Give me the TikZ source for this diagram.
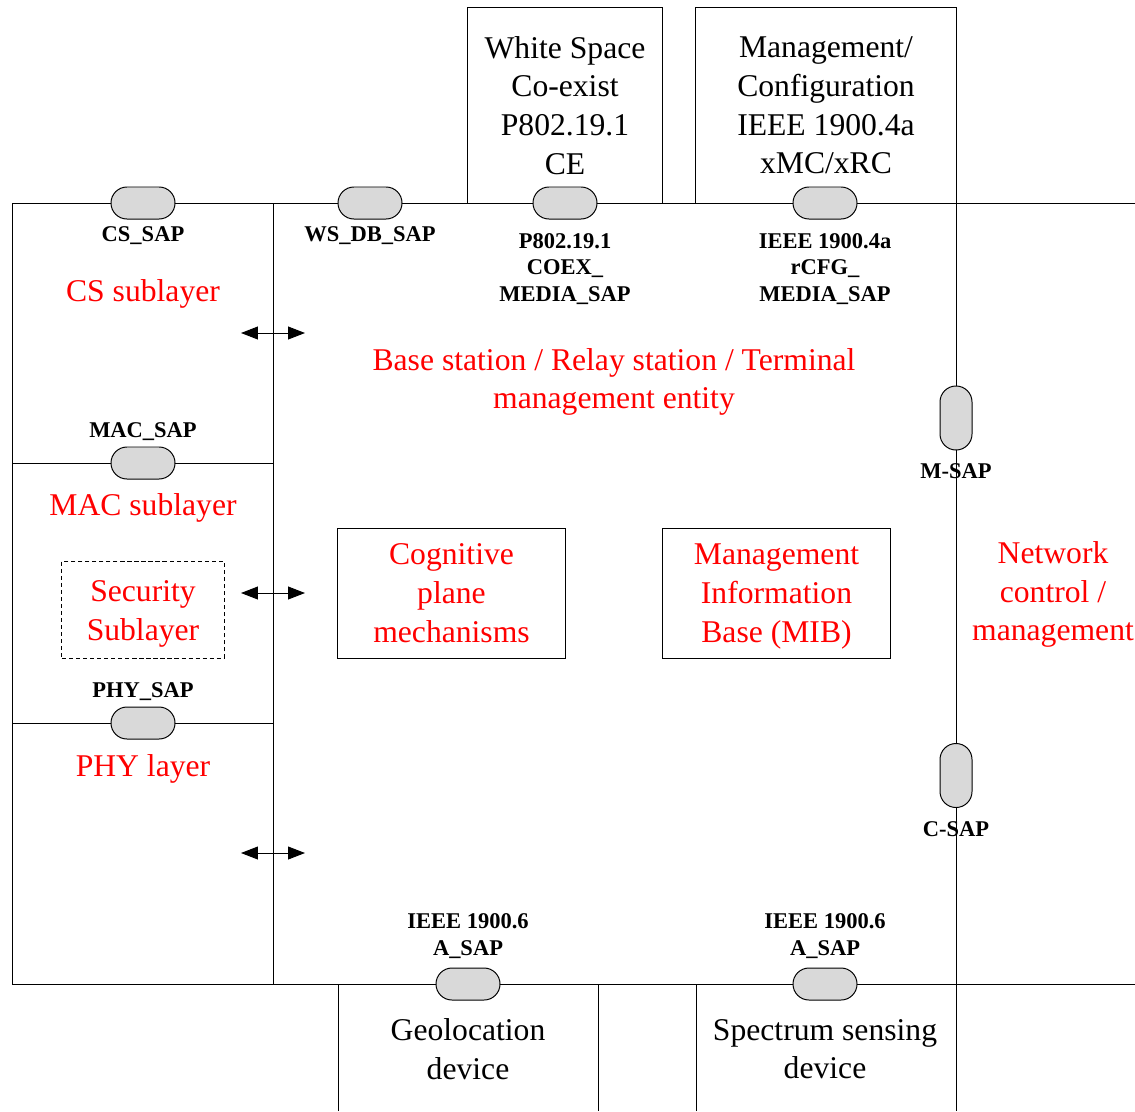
\documentclass[tikz,border=0pt]{standalone}
\usepackage{fontspec}
\setmainfont{Liberation Serif}
\usepackage{xcolor}
\usetikzlibrary{arrows.meta}

\begin{document}
\begin{tikzpicture}[x=0.025cm, y=-0.025cm, line width=0.7pt,
        sap/.style={draw, fill=gray!30, rounded corners=0.4cm, minimum width=1.6cm, minimum height=0.8cm, inner sep=0pt},
        vsap/.style={sap, minimum width=0.8cm, minimum height=1.6cm},
        saplabel/.style={font=\fontsize{16}{19}\selectfont\bfseries, align=center, inner sep=0pt},
        bigtext/.style={font=\fontsize{22.5}{27.5}\selectfont, align=center, inner sep=0pt},
        redtext/.style={bigtext, text=red},
        mechbox/.style={draw, redtext, minimum width=5.675cm, minimum height=3.25cm},
        biarrow/.style={{Triangle[length=0.42cm,width=0.32cm]}-{Triangle[length=0.42cm,width=0.32cm]}}]
            \useasboundingbox (0,0) rectangle (1135,1111);

            % Frame of the station
            \draw (12,203) -- (1135,203);
            \draw (12,984) -- (1135,984);
            \draw (12,203) -- (12,984);
            \draw (273,203) -- (273,984);
            \draw (12,463) -- (273,463);
            \draw (12,723) -- (273,723);
            \draw (956,8) -- (956,1111);

            % Outside entities, top
            \node (whitespace) at (565,105.5) [draw, bigtext, minimum width=4.85cm, minimum height=4.875cm] {White Space\\Co-exist\\P802.19.1\\CE};
            \node (mgmtcfg) at (826,105.5) [draw, bigtext, minimum width=6.5cm, minimum height=4.875cm] {Management/\\Configuration\\IEEE 1900.4a\\xMC/xRC};

            % Outside entities, bottom
            \draw (338,1111) -- (338,984) -- (598,984) -- (598,1111);
            \draw (696,1111) -- (696,984);
            \node (geoloc) at (468,1049) [bigtext] {Geolocation\\device};
            \node (sensing) at (825,1049) [bigtext] {Spectrum sensing\\device};

            % Left column: sublayers
            \node (cssub) at (143,294) [redtext] {CS sublayer};
            \node (macsub) at (143,508) [redtext] {MAC sublayer};
            \node (secsub) at (143,609.5) [draw, dash pattern=on 3pt off 2pt, redtext, minimum width=4.05cm, minimum height=2.425cm] {\raisebox{-2.5pt}[\height][\depth]{\begin{tabular}{@{}c@{}}Security\\Sublayer\end{tabular}}};
            \node (physub) at (143,769) [redtext] {PHY layer};

            % Management entity and its blocks
            \node (entity) at (614,382) [redtext] {Base station / Relay station / Terminal\\management entity};
            \node (cognitive) at (451.5,593) [mechbox] {Cognitive\\plane\\mechanisms};
            \node (mib) at (776.5,593) [mechbox] {\raisebox{-2pt}[\height][\depth]{\begin{tabular}{@{}c@{}}Management\\Information\\Base (MIB)\end{tabular}}};
            \node (netctrl) at (1053,594.5) [redtext] {Network\\control /\\management};

            % Arrows between sublayers and entity
            \foreach \y/\name in {333/cs, 593/mac, 853/phy} {
                \coordinate (\name left) at (241,\y);
                \coordinate (\name right) at (305,\y);
                \draw [biarrow] (\name left) -- (\name right);
            }

            % Service access points
            \node (cssap) at (143,203) [sap] {};
            \node (wsdbsap) at (370,203) [sap] {};
            \node (coexsap) at (565,203) [sap] {};
            \node (rcfgsap) at (825,203) [sap] {};
            \node (macsap) at (143,463) [sap] {};
            \node (physap) at (143,723) [sap] {};
            \node (geosap) at (468,984) [sap] {};
            \node (sensesap) at (825,984) [sap] {};
            \node (msap) at (956,418) [vsap] {};
            \node (csap) at (956,775.5) [vsap] {};

            % SAP labels
            \node at (143,236) [saplabel] {CS\_SAP};
            \node at (370,236) [saplabel] {WS\_DB\_SAP};
            \node at (565,269) [saplabel] {P802.19.1\\COEX\_\\MEDIA\_SAP};
            \node at (825,269) [saplabel] {IEEE 1900.4a\\rCFG\_\\MEDIA\_SAP};
            \node at (143,432) [saplabel] {MAC\_SAP};
            \node at (143,692) [saplabel] {PHY\_SAP};
            \node at (956,471) [saplabel] {M-SAP};
            \node at (956,829) [saplabel] {C-SAP};
            \node at (468,936) [saplabel] {IEEE 1900.6\\A\_SAP};
            \node at (825,936) [saplabel] {IEEE 1900.6\\A\_SAP};
        \end{tikzpicture}
\end{document}
